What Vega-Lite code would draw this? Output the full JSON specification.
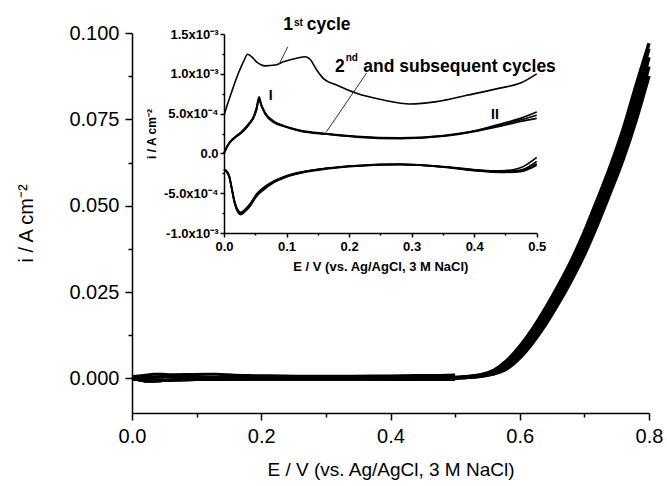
{
  "$schema": "https://vega.github.io/schema/vega-lite/v6.json",
  "width": 517,
  "height": 380,
  "autosize": "none",
  "padding": {"left": 132, "top": 33, "right": 18, "bottom": 73},
  "background": "white",
  "config": {
    "view": {"stroke": null},
    "axis": {"grid": false, "domainColor": "#000", "tickColor": "#000", "labelColor": "#000", "titleColor": "#000", "labelFont": "Liberation Sans", "titleFont": "Liberation Sans", "labelFlush": false, "labelOverlap": false, "domainWidth": 1.5, "tickWidth": 1.5}
  },
  "datasets": {
    "low": [
      {"b":"F1","v":0,"i":0.00048},{"b":"F1","v":0.01,"i":0.00072},{"b":"F1","v":0.023,"i":0.001006},{"b":"F1","v":0.031,"i":0.00115},{"b":"F1","v":0.038,"i":0.001245},{"b":"F1","v":0.044,"i":0.001215},{"b":"F1","v":0.052,"i":0.00115},{"b":"F1","v":0.066,"i":0.0011},{"b":"F1","v":0.082,"i":0.00111},{"b":"F1","v":0.095,"i":0.00115},{"b":"F1","v":0.116,"i":0.001195},{"b":"F1","v":0.13,"i":0.001215},{"b":"F1","v":0.138,"i":0.00118},{"b":"F1","v":0.148,"i":0.00105},{"b":"F1","v":0.159,"i":0.00094},{"b":"F1","v":0.18,"i":0.00086},{"b":"F1","v":0.212,"i":0.000755},{"b":"F1","v":0.255,"i":0.00067},{"b":"F1","v":0.297,"i":0.00062},{"b":"F1","v":0.34,"i":0.00065},{"b":"F1","v":0.388,"i":0.00073},{"b":"F1","v":0.441,"i":0.00082},{"b":"F1","v":0.473,"i":0.00088},{"b":"F1","v":0.5,"i":0.001},

      {"b":"F2","v":0,"i":0},{"b":"F2","v":0.005,"i":0.00009},{"b":"F2","v":0.01,"i":0.00015},{"b":"F2","v":0.02,"i":0.00022},{"b":"F2","v":0.03,"i":0.00029},{"b":"F2","v":0.04,"i":0.00038},{"b":"F2","v":0.047,"i":0.00046},{"b":"F2","v":0.052,"i":0.00058},{"b":"F2","v":0.056,"i":0.00071},{"b":"F2","v":0.06,"i":0.00061},{"b":"F2","v":0.066,"i":0.00051},{"b":"F2","v":0.079,"i":0.00041},{"b":"F2","v":0.095,"i":0.00035},{"b":"F2","v":0.122,"i":0.00029},{"b":"F2","v":0.164,"i":0.00025},{"b":"F2","v":0.212,"i":0.000215},{"b":"F2","v":0.282,"i":0.000195},{"b":"F2","v":0.351,"i":0.000225},{"b":"F2","v":0.404,"i":0.00029},{"b":"F2","v":0.442,"i":0.00037},{"b":"F2","v":0.474,"i":0.00044},{"b":"F2","v":0.5,"i":0.00052},

      {"b":"F3","v":0,"i":0},{"b":"F3","v":0.005,"i":0.00009},{"b":"F3","v":0.01,"i":0.00015},{"b":"F3","v":0.02,"i":0.00022},{"b":"F3","v":0.03,"i":0.00028},{"b":"F3","v":0.04,"i":0.00037},{"b":"F3","v":0.047,"i":0.00045},{"b":"F3","v":0.052,"i":0.00056},{"b":"F3","v":0.056,"i":0.00069},{"b":"F3","v":0.06,"i":0.0006},{"b":"F3","v":0.066,"i":0.0005},{"b":"F3","v":0.079,"i":0.0004},{"b":"F3","v":0.095,"i":0.000345},{"b":"F3","v":0.122,"i":0.000285},{"b":"F3","v":0.164,"i":0.000245},{"b":"F3","v":0.212,"i":0.00021},{"b":"F3","v":0.282,"i":0.00019},{"b":"F3","v":0.351,"i":0.00022},{"b":"F3","v":0.404,"i":0.000285},{"b":"F3","v":0.442,"i":0.000355},{"b":"F3","v":0.474,"i":0.00042},{"b":"F3","v":0.5,"i":0.00048},

      {"b":"F4","v":0,"i":0},{"b":"F4","v":0.005,"i":0.00008},{"b":"F4","v":0.01,"i":0.00014},{"b":"F4","v":0.02,"i":0.00021},{"b":"F4","v":0.03,"i":0.00027},{"b":"F4","v":0.04,"i":0.00036},{"b":"F4","v":0.047,"i":0.00044},{"b":"F4","v":0.052,"i":0.00054},{"b":"F4","v":0.056,"i":0.00067},{"b":"F4","v":0.06,"i":0.00059},{"b":"F4","v":0.066,"i":0.00049},{"b":"F4","v":0.079,"i":0.00039},{"b":"F4","v":0.095,"i":0.00034},{"b":"F4","v":0.122,"i":0.00028},{"b":"F4","v":0.164,"i":0.00024},{"b":"F4","v":0.212,"i":0.000205},{"b":"F4","v":0.282,"i":0.000185},{"b":"F4","v":0.351,"i":0.000215},{"b":"F4","v":0.404,"i":0.00028},{"b":"F4","v":0.442,"i":0.00034},{"b":"F4","v":0.474,"i":0.0004},{"b":"F4","v":0.5,"i":0.00044},

      {"b":"R1","v":0,"i":-0.0002},{"b":"R1","v":0.003,"i":-0.00022},{"b":"R1","v":0.0085,"i":-0.00029},{"b":"R1","v":0.012,"i":-0.00042},{"b":"R1","v":0.0176,"i":-0.00063},{"b":"R1","v":0.023,"i":-0.00073},{"b":"R1","v":0.027,"i":-0.00075},{"b":"R1","v":0.034,"i":-0.00071},{"b":"R1","v":0.042,"i":-0.00064},{"b":"R1","v":0.052,"i":-0.00052},{"b":"R1","v":0.063,"i":-0.00044},{"b":"R1","v":0.079,"i":-0.000355},{"b":"R1","v":0.1,"i":-0.000285},{"b":"R1","v":0.127,"i":-0.00023},{"b":"R1","v":0.164,"i":-0.000187},{"b":"R1","v":0.212,"i":-0.000155},{"b":"R1","v":0.282,"i":-0.000137},{"b":"R1","v":0.351,"i":-0.000165},{"b":"R1","v":0.404,"i":-0.000205},{"b":"R1","v":0.442,"i":-0.00022},{"b":"R1","v":0.474,"i":-0.00018},{"b":"R1","v":0.5,"i":-0.00005},

      {"b":"R2","v":0,"i":-0.0002},{"b":"R2","v":0.003,"i":-0.00022},{"b":"R2","v":0.0085,"i":-0.0003},{"b":"R2","v":0.012,"i":-0.00043},{"b":"R2","v":0.0176,"i":-0.00064},{"b":"R2","v":0.023,"i":-0.00074},{"b":"R2","v":0.027,"i":-0.00076},{"b":"R2","v":0.034,"i":-0.00072},{"b":"R2","v":0.042,"i":-0.00065},{"b":"R2","v":0.052,"i":-0.00053},{"b":"R2","v":0.063,"i":-0.00045},{"b":"R2","v":0.079,"i":-0.00036},{"b":"R2","v":0.1,"i":-0.00029},{"b":"R2","v":0.127,"i":-0.000235},{"b":"R2","v":0.164,"i":-0.00019},{"b":"R2","v":0.212,"i":-0.000158},{"b":"R2","v":0.282,"i":-0.00014},{"b":"R2","v":0.351,"i":-0.00017},{"b":"R2","v":0.404,"i":-0.00021},{"b":"R2","v":0.442,"i":-0.00023},{"b":"R2","v":0.474,"i":-0.00021},{"b":"R2","v":0.5,"i":-0.0001},

      {"b":"R3","v":0,"i":-0.0002},{"b":"R3","v":0.003,"i":-0.00021},{"b":"R3","v":0.0085,"i":-0.00028},{"b":"R3","v":0.012,"i":-0.00041},{"b":"R3","v":0.0176,"i":-0.00062},{"b":"R3","v":0.023,"i":-0.00072},{"b":"R3","v":0.027,"i":-0.00074},{"b":"R3","v":0.034,"i":-0.0007},{"b":"R3","v":0.042,"i":-0.00063},{"b":"R3","v":0.052,"i":-0.00051},{"b":"R3","v":0.063,"i":-0.00043},{"b":"R3","v":0.079,"i":-0.00035},{"b":"R3","v":0.1,"i":-0.00028},{"b":"R3","v":0.127,"i":-0.000228},{"b":"R3","v":0.164,"i":-0.000185},{"b":"R3","v":0.212,"i":-0.000152},{"b":"R3","v":0.282,"i":-0.000135},{"b":"R3","v":0.351,"i":-0.000168},{"b":"R3","v":0.404,"i":-0.000215},{"b":"R3","v":0.442,"i":-0.000235},{"b":"R3","v":0.474,"i":-0.00022},{"b":"R3","v":0.5,"i":-0.00013},

      {"b":"R4","v":0,"i":-0.0002},{"b":"R4","v":0.003,"i":-0.00022},{"b":"R4","v":0.0085,"i":-0.0003},{"b":"R4","v":0.012,"i":-0.00044},{"b":"R4","v":0.0176,"i":-0.00065},{"b":"R4","v":0.023,"i":-0.00075},{"b":"R4","v":0.027,"i":-0.00077},{"b":"R4","v":0.034,"i":-0.00073},{"b":"R4","v":0.042,"i":-0.00066},{"b":"R4","v":0.052,"i":-0.00054},{"b":"R4","v":0.063,"i":-0.00046},{"b":"R4","v":0.079,"i":-0.00037},{"b":"R4","v":0.1,"i":-0.000295},{"b":"R4","v":0.127,"i":-0.00024},{"b":"R4","v":0.164,"i":-0.000195},{"b":"R4","v":0.212,"i":-0.00016},{"b":"R4","v":0.282,"i":-0.000142},{"b":"R4","v":0.351,"i":-0.000172},{"b":"R4","v":0.404,"i":-0.00022},{"b":"R4","v":0.442,"i":-0.00024},{"b":"R4","v":0.474,"i":-0.00023},{"b":"R4","v":0.5,"i":-0.00015}
    ],
    "high": [
      {"c":"A","v":0.5,"i":0.00028},{"c":"A","v":0.52,"i":0.00056},{"c":"A","v":0.54,"i":0.0011},{"c":"A","v":0.56,"i":0.0024},{"c":"A","v":0.58,"i":0.0052},{"c":"A","v":0.6,"i":0.0093},{"c":"A","v":0.62,"i":0.0144},{"c":"A","v":0.64,"i":0.0204},{"c":"A","v":0.66,"i":0.027},{"c":"A","v":0.68,"i":0.0342},{"c":"A","v":0.7,"i":0.0425},{"c":"A","v":0.72,"i":0.0518},{"c":"A","v":0.74,"i":0.0614},{"c":"A","v":0.76,"i":0.0722},{"c":"A","v":0.78,"i":0.0849},{"c":"A","v":0.8,"i":0.097},
      {"c":"B","v":0.5,"i":0.00024},{"c":"B","v":0.52,"i":0.00048},{"c":"B","v":0.54,"i":0.00096},{"c":"B","v":0.56,"i":0.002},{"c":"B","v":0.58,"i":0.0044},{"c":"B","v":0.6,"i":0.0084},{"c":"B","v":0.62,"i":0.0133},{"c":"B","v":0.64,"i":0.0192},{"c":"B","v":0.66,"i":0.0256},{"c":"B","v":0.68,"i":0.0327},{"c":"B","v":0.7,"i":0.0407},{"c":"B","v":0.72,"i":0.05},{"c":"B","v":0.74,"i":0.0594},{"c":"B","v":0.76,"i":0.0698},{"c":"B","v":0.78,"i":0.0822},{"c":"B","v":0.8,"i":0.0955},
      {"c":"C","v":0.5,"i":0.0002},{"c":"C","v":0.52,"i":0.0004},{"c":"C","v":0.54,"i":0.0008},{"c":"C","v":0.56,"i":0.0016},{"c":"C","v":0.58,"i":0.0036},{"c":"C","v":0.6,"i":0.0075},{"c":"C","v":0.62,"i":0.0121},{"c":"C","v":0.64,"i":0.0179},{"c":"C","v":0.66,"i":0.0242},{"c":"C","v":0.68,"i":0.0312},{"c":"C","v":0.7,"i":0.0388},{"c":"C","v":0.72,"i":0.0481},{"c":"C","v":0.74,"i":0.0574},{"c":"C","v":0.76,"i":0.0674},{"c":"C","v":0.78,"i":0.0795},{"c":"C","v":0.8,"i":0.093},
      {"c":"D","v":0.5,"i":0.00018},{"c":"D","v":0.52,"i":0.00036},{"c":"D","v":0.54,"i":0.00072},{"c":"D","v":0.56,"i":0.0014},{"c":"D","v":0.58,"i":0.0032},{"c":"D","v":0.6,"i":0.0067},{"c":"D","v":0.62,"i":0.0112},{"c":"D","v":0.64,"i":0.0167},{"c":"D","v":0.66,"i":0.0229},{"c":"D","v":0.68,"i":0.0298},{"c":"D","v":0.7,"i":0.0373},{"c":"D","v":0.72,"i":0.0462},{"c":"D","v":0.74,"i":0.0555},{"c":"D","v":0.76,"i":0.0654},{"c":"D","v":0.78,"i":0.0771},{"c":"D","v":0.8,"i":0.0903},
      {"c":"E","v":0.5,"i":0.00015},{"c":"E","v":0.52,"i":0.00032},{"c":"E","v":0.54,"i":0.00064},{"c":"E","v":0.56,"i":0.0013},{"c":"E","v":0.58,"i":0.0028},{"c":"E","v":0.6,"i":0.0059},{"c":"E","v":0.62,"i":0.0103},{"c":"E","v":0.64,"i":0.0156},{"c":"E","v":0.66,"i":0.0217},{"c":"E","v":0.68,"i":0.0284},{"c":"E","v":0.7,"i":0.0358},{"c":"E","v":0.72,"i":0.0444},{"c":"E","v":0.74,"i":0.0537},{"c":"E","v":0.76,"i":0.0634},{"c":"E","v":0.78,"i":0.0747},{"c":"E","v":0.8,"i":0.0876}
    ],
    "ann": [
      {"t":"1","v":0.0948,"i":0.00155,"k":"big"},
      {"t":"st","v":0.1118,"i":0.0016,"k":"sup"},
      {"t":"cycle","v":0.1322,"i":0.00155,"k":"big"},
      {"t":"2","v":0.1775,"i":0.001026,"k":"big"},
      {"t":"nd","v":0.1945,"i":0.00116,"k":"sup"},
      {"t":"and subsequent cycles","v":0.2227,"i":0.001026,"k":"big"},
      {"t":"I","v":0.0746,"i":0.00067,"k":"roman"},
      {"t":"II","v":0.4333,"i":0.000428,"k":"roman"}
    ],
    "lead": [
      {"v":0.102,"i":0.00134,"v2":0.088,"i2":0.00112},
      {"v":0.228,"i":0.00101,"v2":0.164,"i2":0.000273}
    ]
  },
  "layer": [
    {
      "encoding": {
        "x": {"field": "v", "type": "quantitative",
          "scale": {"domain": [0, 0.8], "nice": false, "zero": false},
          "axis": {"orient": "bottom", "values": [0,0.1,0.2,0.3,0.4,0.5,0.6,0.7,0.8],
            "labelExpr": "abs(datum.value*5 - round(datum.value*5)) < 0.01 ? format(datum.value, '.1f') : ''",
            "tickSize": {"condition": {"test": "abs(datum.value*5 - round(datum.value*5)) < 0.01", "value": 7}, "value": 4},
            "labelFontSize": 20, "labelPadding": 6,
            "title": "E / V (vs. Ag/AgCl, 3 M NaCl)", "titleFontSize": 19, "titleFontWeight": "normal", "titlePadding": 14}},
        "y": {"field": "i", "type": "quantitative",
          "scale": {"domain": [-0.01, 0.1], "nice": false, "zero": false},
          "axis": {"orient": "left", "values": [0,0.0125,0.025,0.0375,0.05,0.0625,0.075,0.0875,0.1],
            "labelExpr": "abs(datum.value*40 - round(datum.value*40)) < 0.01 ? format(datum.value, '.3f') : ''",
            "tickSize": {"condition": {"test": "abs(datum.value*40 - round(datum.value*40)) < 0.01", "value": 7}, "value": 4},
            "labelFontSize": 20, "labelPadding": 6,
            "title": "i / A cm⁻²", "titleFontSize": 20, "titleFontWeight": "normal", "titlePadding": 32}}
      },
      "layer": [
        {"data": {"name": "low"}, "mark": {"type": "line", "color": "#000", "strokeWidth": 3, "interpolate": "monotone"}, "encoding": {"detail": {"field": "b"}}},
        {"data": {"name": "high"}, "mark": {"type": "line", "color": "#000", "strokeWidth": 3.4, "interpolate": "monotone"}, "encoding": {"detail": {"field": "c"}}}
      ]
    },
    {
      "encoding": {
        "x": {"field": "v", "type": "quantitative",
          "scale": {"domain": [0, 0.5], "nice": false, "zero": false, "range": [92, 404.7]},
          "axis": {"orient": "bottom", "offset": -180, "values": [0,0.05,0.1,0.15,0.2,0.25,0.3,0.35,0.4,0.45,0.5],
            "labelExpr": "abs(datum.value*10 - round(datum.value*10)) < 0.01 ? format(datum.value, '.1f') : ''",
            "tickSize": {"condition": {"test": "abs(datum.value*10 - round(datum.value*10)) < 0.01", "value": 4}, "value": 2},
            "labelFontSize": 13, "labelFontWeight": "bold", "labelPadding": 3,
            "title": "E / V (vs. Ag/AgCl, 3 M NaCl)", "titleFontSize": 13, "titleFontWeight": "bold", "titlePadding": 7}},
        "y": {"field": "i", "type": "quantitative",
          "scale": {"domain": [-0.001, 0.0015], "nice": false, "zero": false, "range": [200, 1]},
          "axis": {"orient": "left", "offset": -92, "values": [-0.001,-0.00075,-0.0005,-0.00025,0,0.00025,0.0005,0.00075,0.001,0.00125,0.0015],
            "labelExpr": "abs(datum.value*2000 - round(datum.value*2000)) > 0.01 ? '' : (round(datum.value*2000) == 3 ? '1.5x10⁻³' : round(datum.value*2000) == 2 ? '1.0x10⁻³' : round(datum.value*2000) == 1 ? '5.0x10⁻⁴' : round(datum.value*2000) == 0 ? '0.0' : round(datum.value*2000) == -1 ? '-5.0x10⁻⁴' : '-1.0x10⁻³')",
            "tickSize": {"condition": {"test": "abs(datum.value*2000 - round(datum.value*2000)) < 0.01", "value": 4}, "value": 2},
            "labelFontSize": 13, "labelFontWeight": "bold", "labelPadding": 2,
            "title": "i / A cm⁻²", "titleFontSize": 12, "titleFontWeight": "bold", "titlePadding": 5}}
      },
      "layer": [
        {"data": {"name": "low"}, "mark": {"type": "line", "color": "#000", "strokeWidth": 1.6, "interpolate": "monotone"}, "encoding": {"detail": {"field": "b"}}},
        {"data": {"name": "lead"}, "mark": {"type": "rule", "color": "#333", "strokeWidth": 1}, "encoding": {"x2": {"field": "v2"}, "y2": {"field": "i2"}}},
        {"data": {"name": "ann"}, "transform": [{"filter": "datum.k == 'big'"}], "mark": {"type": "text", "align": "left", "baseline": "alphabetic", "font": "Liberation Sans", "fontWeight": "bold", "fontSize": 17.5, "color": "#000"}, "encoding": {"text": {"field": "t"}}},
        {"data": {"name": "ann"}, "transform": [{"filter": "datum.k == 'sup'"}], "mark": {"type": "text", "align": "left", "baseline": "alphabetic", "font": "Liberation Sans", "fontWeight": "bold", "fontSize": 10, "color": "#000"}, "encoding": {"text": {"field": "t"}}},
        {"data": {"name": "ann"}, "transform": [{"filter": "datum.k == 'roman'"}], "mark": {"type": "text", "align": "center", "baseline": "alphabetic", "font": "Liberation Sans", "fontWeight": "bold", "fontSize": 14, "color": "#000"}, "encoding": {"text": {"field": "t"}}}
      ]
    }
  ],
  "resolve": {"scale": {"x": "independent", "y": "independent"}, "axis": {"x": "independent", "y": "independent"}}
}
